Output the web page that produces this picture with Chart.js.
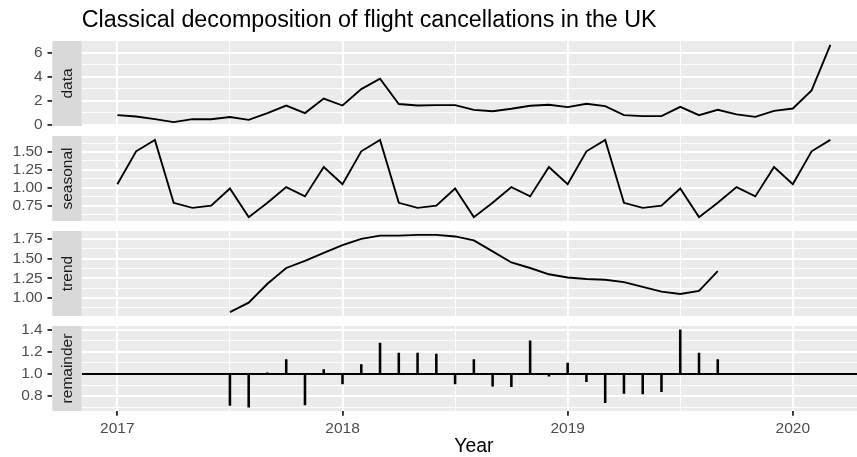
<!DOCTYPE html>
<html>
<head>
<meta charset="utf-8">
<title>Classical decomposition of flight cancellations in the UK</title>
<script src="https://cdn.jsdelivr.net/npm/chart.js@4.4.1/dist/chart.umd.min.js"></script>
<style>
    html, body { margin: 0; padding: 0; background: #fff; overflow: hidden; }
    #wrap { position: relative; width: 857px; height: 457px; overflow: hidden; }
    canvas { position: absolute; left: 0; }
</style>
</head>
<body>
<div id="wrap">
    <!-- each canvas reaches 9px past its panel so edge tick labels are not cut -->
    <canvas id="panelData" width="866" height="135" style="top:0px"></canvas>
    <canvas id="panelSeasonal" width="866" height="103" style="top:127px"></canvas>
    <canvas id="panelTrend" width="866" height="103" style="top:222px"></canvas>
    <canvas id="panelRemainder" width="866" height="140" style="top:317px"></canvas>
</div>
<script>
const months = [
    '2017-01', '2017-02', '2017-03', '2017-04', '2017-05', '2017-06',
    '2017-07', '2017-08', '2017-09', '2017-10', '2017-11', '2017-12',
    '2018-01', '2018-02', '2018-03', '2018-04', '2018-05', '2018-06',
    '2018-07', '2018-08', '2018-09', '2018-10', '2018-11', '2018-12',
    '2019-01', '2019-02', '2019-03', '2019-04', '2019-05', '2019-06',
    '2019-07', '2019-08', '2019-09', '2019-10', '2019-11', '2019-12',
    '2020-01', '2020-02', '2020-03'
];

const observed = [
    0.80, 0.69, 0.47, 0.22, 0.47, 0.46, 0.64, 0.41, 0.97, 1.60, 0.97, 2.18,
    1.60, 2.96, 3.82, 1.72, 1.60, 1.63, 1.63, 1.24, 1.13, 1.33, 1.58, 1.66,
    1.47, 1.74, 1.55, 0.80, 0.72, 0.72, 1.49, 0.80, 1.24, 0.86, 0.66, 1.16,
    1.35, 2.85, 6.64
];

const seasonal = [
    1.05, 1.51, 1.67, 0.79, 0.72, 0.75, 0.99, 0.59, 0.79, 1.01, 0.88, 1.29,
    1.05, 1.51, 1.67, 0.79, 0.72, 0.75, 0.99, 0.59, 0.79, 1.01, 0.88, 1.29,
    1.05, 1.51, 1.67, 0.79, 0.72, 0.75, 0.99, 0.59, 0.79, 1.01, 0.88, 1.29,
    1.05, 1.51, 1.67
];

// moving-average trend is undefined for the first and last six months
const trend = [
    null, null, null, null, null, null, 0.82, 0.94, 1.18, 1.38, 1.47, 1.57,
    1.67, 1.75, 1.79, 1.79, 1.80, 1.80, 1.78, 1.73, 1.59, 1.45, 1.38, 1.30,
    1.26, 1.24, 1.23, 1.20, 1.14, 1.08, 1.05, 1.09, 1.34, null, null, null,
    null, null, null
];

const remainder = [
    null, null, null, null, null, null, 0.715, 0.70, 1.01, 1.13, 0.72, 1.04,
    0.91, 1.085, 1.28, 1.19, 1.19, 1.18, 0.91, 1.13, 0.89, 0.885, 1.30, 0.98,
    1.10, 0.93, 0.74, 0.825, 0.82, 0.84, 1.40, 1.19, 1.13, null, null, null,
    null, null, null
];

// multiplicative decomposition: remainder spikes start from 1
const remainderBase = 1;

const xTickLabels = ['2017', '2018', '2019', '2020'];
const dataTickLabels = ['0', '2', '4', '6'];
const seasonalTickLabels = ['0.75', '1.00', '1.25', '1.50'];
const trendTickLabels = ['1.00', '1.25', '1.50', '1.75'];
const remainderTickLabels = ['0.8', '1.0', '1.2', '1.4'];

const FONT = "'Liberation Sans', Arial, Helvetica, sans-serif";
Chart.defaults.font.family = FONT;

const years = months.map(m => {
    const [y, mo] = m.split('-').map(Number);
    return y + (mo - 1) / 12;
});

// ggplot-style 5% padding around the data
function padRange(values) {
    const v = values.filter(d => d != null);
    const lo = Math.min(...v);
    const hi = Math.max(...v);
    const pad = (hi - lo) * 0.05;
    return { min: lo - pad, max: hi + pad };
}

// major ticks from the labels, minor ones half a step between them
function gridTicks(labels, range) {
    const major = labels.map(Number);
    const step = major[1] - major[0];
    const ticks = major.map(v => ({ value: v, minor: false }));
    [major[0] - step / 2, ...major.map(v => v + step / 2)].forEach(v => {
        ticks.push({ value: v, minor: true });
    });
    return ticks
        .filter(t => t.value >= range.min && t.value <= range.max)
        .sort((a, b) => a.value - b.value);
}

function labelFor(labels) {
    const major = labels.map(Number);
    return (value, i, ticks) => {
        if (ticks[i].minor) return '';
        const k = major.indexOf(value);
        return k >= 0 ? labels[k] : '';
    };
}

// keep the panels at their fixed size: no extra room for overhanging labels
function fixSize(s, size) {
    if (s.isHorizontal()) s.height = size; else s.width = size;
    s.paddingTop = 0;
    s.paddingBottom = 0;
    s.paddingLeft = 0;
    s.paddingRight = 0;
}

const isMinor = ctx => ctx.tick && ctx.tick.minor;

const gridStyle = {
    color: '#FFFFFF',
    lineWidth: ctx => isMinor(ctx) ? 0.95 : 1.9,
    tickColor: ctx => isMinor(ctx) ? 'rgba(0,0,0,0)' : '#333333',
    tickLength: 4.8,
    offset: false
};

const panelBackground = {
    id: 'panelBackground',
    beforeDraw(chart) {
        const { ctx, chartArea: a } = chart;
        ctx.save();
        ctx.fillStyle = '#EBEBEB';
        ctx.fillRect(a.left, a.top, a.right - a.left, a.bottom - a.top);
        ctx.restore();
    }
};

const xRange = padRange(years);

function seriesPoints(values) {
    return years.map((x, i) => ({ x, y: values[i] })).filter(p => p.y != null);
}

function lineDataset(points) {
    return {
        type: 'line',
        data: points,
        borderColor: '#000000',
        borderWidth: 1.9,
        pointRadius: 0,
        tension: 0,
        fill: false
    };
}

function makePanel(canvasId, opts) {
    const yRange = padRange(opts.rangeValues);
    const bottom = !!opts.bottom;

    return new Chart(document.getElementById(canvasId), {
        type: 'line',
        data: { datasets: opts.datasets },
        plugins: [panelBackground],
        options: {
            responsive: false,
            animation: false,
            events: [],
            devicePixelRatio: 1,
            layout: {
                padding: {
                    top: opts.title ? 0 : 9,
                    bottom: bottom ? 0 : 9,
                    left: 0,
                    right: 0
                }
            },
            plugins: {
                legend: { display: false },
                tooltip: { enabled: false },
                title: opts.title ? {
                    display: true,
                    text: opts.title,
                    align: 'start',
                    fullSize: false,
                    color: '#000000',
                    font: { family: FONT, size: 23.3, weight: 'normal', lineHeight: 1.2 },
                    padding: { top: 6.5, bottom: 6.5 }
                } : { display: false }
            },
            scales: {
                x: {
                    type: 'linear',
                    position: 'bottom',
                    min: xRange.min,
                    max: xRange.max,
                    offset: false,
                    afterBuildTicks: s => { s.ticks = gridTicks(xTickLabels, xRange); },
                    afterFit: s => fixSize(s, bottom ? 46 : 0),
                    ticks: {
                        display: bottom,
                        autoSkip: false,
                        maxRotation: 0,
                        color: '#4D4D4D',
                        font: { size: 15.5 },
                        padding: 3.5,
                        callback: labelFor(xTickLabels)
                    },
                    grid: Object.assign({}, gridStyle, { drawTicks: bottom }),
                    border: { display: false },
                    title: {
                        display: bottom,
                        text: 'Year',
                        color: '#000000',
                        font: { size: 19.4, lineHeight: 1 },
                        padding: { top: 0, bottom: 0.3 }
                    }
                },
                y: {
                    type: 'linear',
                    position: 'left',
                    weight: 1,
                    min: yRange.min,
                    max: yRange.max,
                    afterBuildTicks: s => { s.ticks = gridTicks(opts.tickLabels, yRange); },
                    afterFit: s => fixSize(s, 52.3),
                    ticks: {
                        autoSkip: false,
                        color: '#4D4D4D',
                        font: { size: 15.5 },
                        padding: 4.8,
                        callback: labelFor(opts.tickLabels)
                    },
                    grid: gridStyle,
                    border: { display: false }
                },
                strip: {
                    axis: 'y',
                    type: 'linear',
                    position: 'left',
                    weight: 0,
                    backgroundColor: '#D9D9D9',
                    afterFit: s => fixSize(s, 29.4),
                    ticks: { display: false },
                    grid: { display: false },
                    border: { display: false },
                    title: {
                        display: true,
                        text: opts.strip,
                        color: '#1A1A1A',
                        font: { size: 15.5, lineHeight: 1.2 },
                        padding: { top: 5.8, bottom: 0 }
                    }
                }
            }
        }
    });
}

makePanel('panelData', {
    title: 'Classical decomposition of flight cancellations in the UK',
    strip: 'data',
    tickLabels: dataTickLabels,
    rangeValues: observed,
    datasets: [lineDataset(seriesPoints(observed))]
});

makePanel('panelSeasonal', {
    strip: 'seasonal',
    tickLabels: seasonalTickLabels,
    rangeValues: seasonal,
    datasets: [lineDataset(seriesPoints(seasonal))]
});

makePanel('panelTrend', {
    strip: 'trend',
    tickLabels: trendTickLabels,
    rangeValues: trend,
    datasets: [lineDataset(seriesPoints(trend))]
});

makePanel('panelRemainder', {
    strip: 'remainder',
    tickLabels: remainderTickLabels,
    rangeValues: remainder,
    bottom: true,
    datasets: [
        lineDataset([{ x: xRange.min, y: remainderBase }, { x: xRange.max, y: remainderBase }]),
        {
            type: 'bar',
            data: years
                .map((x, i) => ({ x, y: [remainderBase, remainder[i]] }))
                .filter(p => p.y[1] != null),
            backgroundColor: '#000000',
            borderWidth: 0,
            barThickness: 1.9
        }
    ]
});
</script>
</body>
</html>
